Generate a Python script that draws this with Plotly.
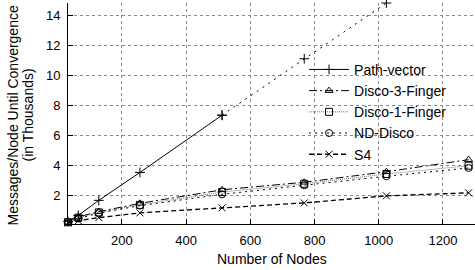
import plotly.graph_objects as go

nodes = [32, 64, 128, 256, 512, 768, 1024, 1280]
pv_nodes = [32, 64, 128, 256, 512]
pv_vals = [0.3, 0.7, 1.7, 3.55, 7.35]
pv_est_nodes = [512, 768, 1024]
pv_est_vals = [7.35, 11.1, 14.8]
disco3 = [0.25, 0.6, 0.95, 1.5, 2.4, 2.9, 3.6, 4.4]
disco1 = [0.25, 0.55, 0.9, 1.4, 2.25, 2.8, 3.45, 4.0]
nddisco = [0.25, 0.5, 0.85, 1.35, 2.1, 2.7, 3.3, 3.85]
s4 = [0.2, 0.35, 0.55, 0.87, 1.2, 1.53, 2.0, 2.2]

x_ticks = [200, 400, 600, 800, 1000, 1200]
y_ticks = [2, 4, 6, 8, 10, 12, 14]

FONT = "Liberation Sans, Arial, sans-serif"
fig = go.Figure()

def add(x, y, name, dash, symbol, color="black", show=True, width=1):
    fig.add_trace(go.Scatter(
        x=x, y=y, name=name, mode="lines+markers", showlegend=show,
        line=dict(color=color, width=width, dash=dash),
        marker=dict(symbol=symbol, size=7, color="black",
                    line=dict(color="black", width=1)),
        cliponaxis=False,
    ))

add(pv_nodes, pv_vals, "Path-vector", "solid", "cross-thin-open")
add(pv_est_nodes, pv_est_vals, "Path-vector", "2px,5px", "cross-thin-open", show=False)
add(nodes, disco3, "Disco-3-Finger", "8px,3px,2px,3px", "triangle-up-open")
add(nodes, disco1, "Disco-1-Finger", "1px,1px", "square-open", color="#777")
add(nodes, nddisco, "ND-Disco", "2px,4px", "circle-open")
add(nodes, s4, "S4", "5px,3px", "x-thin-open", width=1.3)

axis_common = dict(
    showline=True, linecolor="black", linewidth=1,
    ticks="inside", ticklen=5, tickcolor="black",
    showgrid=True, gridcolor="#888", griddash="dot", gridwidth=1,
    zeroline=False, mirror=False, automargin=False,
    tickfont=dict(family=FONT, size=13, color="black"),
)

fig.update_xaxes(range=[32, 1300], tickvals=x_ticks, ticklabelstandoff=4, **axis_common)
fig.update_yaxes(range=[0.13, 14.8], tickvals=y_ticks, ticklabelstandoff=4, **axis_common)

title_font = dict(family=FONT, size=14, color="black")
fig.add_annotation(text="Messages/Node Until Convergence", xref="paper", yref="paper",
                   x=0, y=0.5, xanchor="center", yanchor="middle", xshift=-56, yshift=-2,
                   textangle=-90, showarrow=False, font=title_font)
fig.add_annotation(text="(in Thousands)", xref="paper", yref="paper",
                   x=0, y=0.5, xanchor="center", yanchor="middle", xshift=-41, yshift=-2,
                   textangle=-90, showarrow=False, font=title_font)
fig.add_annotation(text="Number of Nodes", xref="paper", yref="paper",
                   x=0.5, y=0, xanchor="center", yanchor="middle", yshift=-35,
                   showarrow=False, font=title_font)

fig.update_layout(
    width=475, height=270,
    margin=dict(l=68, r=0, t=3, b=46, autoexpand=False),
    plot_bgcolor="white", paper_bgcolor="white",
    font=dict(family=FONT, size=13, color="black"),
    legend=dict(x=0.58, y=0.77, xanchor="left", yanchor="top",
                bgcolor="rgba(0,0,0,0)", tracegroupgap=0,
                font=dict(family=FONT, size=14, color="black"),
                itemwidth=40),
)

fig.write_html("out.html", config={"displayModeBar": False},
               post_script="document.body.style.margin='0';")
